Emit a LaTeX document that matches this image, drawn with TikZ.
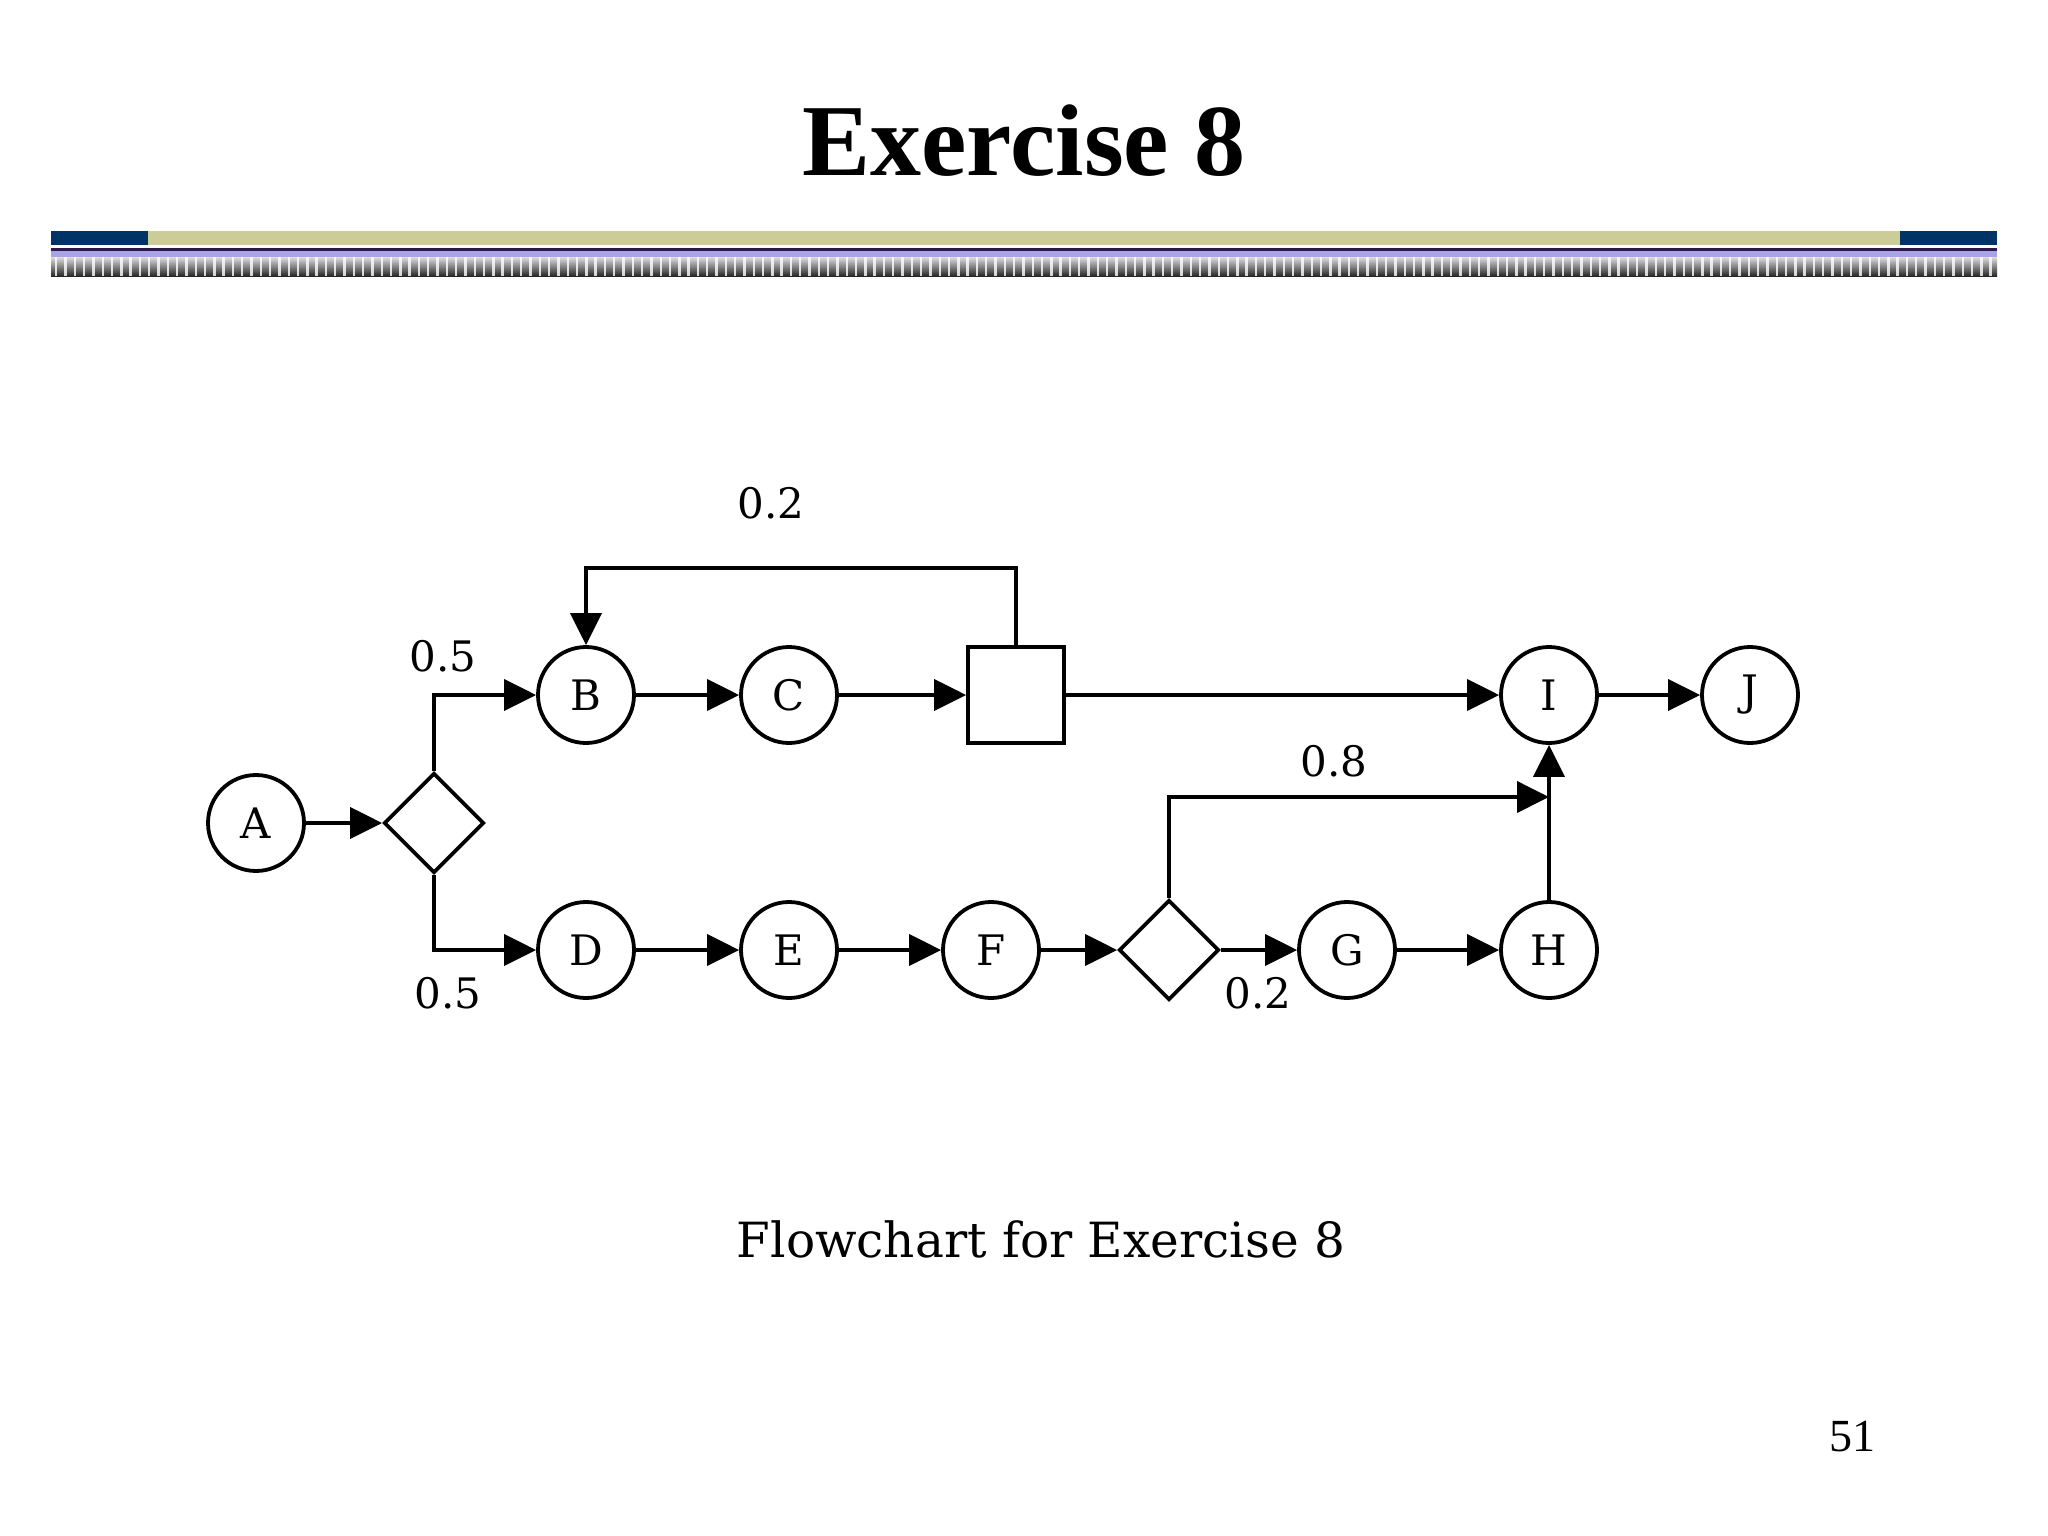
\documentclass[tikz,border=0pt]{standalone}
\usepackage{fontspec}
\setmainfont{Liberation Serif}
\newfontfamily\djs{DejaVu Serif}
\usetikzlibrary{arrows.meta,shapes.geometric,calc}
\definecolor{hdrblue}{HTML}{003366}
\definecolor{hdrkhaki}{HTML}{CCCC99}
\definecolor{hdrlav}{HTML}{A8A4E6}
\definecolor{hdrdark}{HTML}{2A1A4A}
\tikzset{
  circ/.style={circle,draw,line width=3.8pt,minimum size=96pt,inner sep=0pt,font=\djs\fontsize{42}{42}\selectfont},
  dia/.style={diamond,draw,line width=3.8pt,minimum width=100pt,minimum height=100pt,inner sep=0pt,aspect=1},
  sq/.style={rectangle,draw,line width=3.8pt,minimum size=96pt,inner sep=0pt},
  arr/.style={line width=3.8pt,-{Triangle[length=32pt,width=31pt]}},
  lbl/.style={font=\djs\fontsize{42}{42}\selectfont,inner sep=0pt}
}
\begin{document}
\begin{tikzpicture}[x=1pt,y=-1pt]
\useasboundingbox (0,0) rectangle (2048,1536);
\fill[white] (0,0) rectangle (2048,1536);
% title
\node[font=\bfseries\fontsize{102}{102}\selectfont,inner sep=0pt] (title) at (1024,141) {Exercise 8};
% header bar
\fill[hdrkhaki] (51,231) rectangle (1997,245);
\fill[hdrblue] (51,231) rectangle (148,245);
\fill[hdrblue] (1900,231) rectangle (1997,245);
\fill[hdrdark] (51,248) rectangle (1997,251);
\fill[hdrlav] (51,251) rectangle (1997,257);
\shade[top color=gray!25,bottom color=black!85] (51,257) rectangle (1997,276);
\foreach \x in {55,64.3,...,1997} \fill[white,opacity=0.8] (\x,257) rectangle ++(2.4,19);
% nodes
\node[circ] (A) at (256,823) {A};
\node[dia] (D1) at (434,823) {};
\node[circ] (B) at (586,695) {B};
\node[circ] (C) at (789,695) {C};
\node[sq] (box) at (1016,695) {};
\node[circ] (I) at (1549,695) {I};
\node[circ] (J) at (1750,695) {J};
\node[circ] (D) at (586,950) {D};
\node[circ] (E) at (789,950) {E};
\node[circ] (F) at (991,950) {F};
\node[dia] (D2) at (1169,950) {};
\node[circ] (G) at (1347,950) {G};
\node[circ] (H) at (1549,950) {H};
\coordinate (fbtop) at (1016,568);
\coordinate (Ijoin) at (1549,797);
% connectors
\draw[arr] (A) -- (D1.west);
\draw[arr] (D1.north) |- (B);
\draw[arr] (D1.south) |- (D);
\draw[arr] (B) -- (C);
\draw[arr] (C) -- (box);
\draw[arr] (box) -- (I);
\draw[arr] (I) -- (J);
\draw[arr] (box.north) -- (fbtop) -| (B.north);
\draw[arr] (D) -- (E);
\draw[arr] (E) -- (F);
\draw[arr] (F) -- (D2.west);
\draw[arr] (D2.east) -- (G);
\draw[arr] (G) -- (H);
\draw[arr] (H) -- (I);
\draw[arr] (D2.north) |- (Ijoin);
% labels
\node[lbl] (l1) at (771,503) {0.2};
\node[lbl] (l2) at (443,656) {0.5};
\node[lbl] (l3) at (448,993) {0.5};
\node[lbl] (l4) at (1334,761) {0.8};
\node[lbl] (l5) at (1258,993) {0.2};
% caption
\node[font=\djs\fontsize{48.5}{48.5}\selectfont,inner sep=0pt] (cap) at (1041,1239) {Flowchart for Exercise 8};
\node[font=\fontsize{46}{46}\selectfont,inner sep=0pt] (pg) at (1852,1437) {51};
\end{tikzpicture}
\end{document}
